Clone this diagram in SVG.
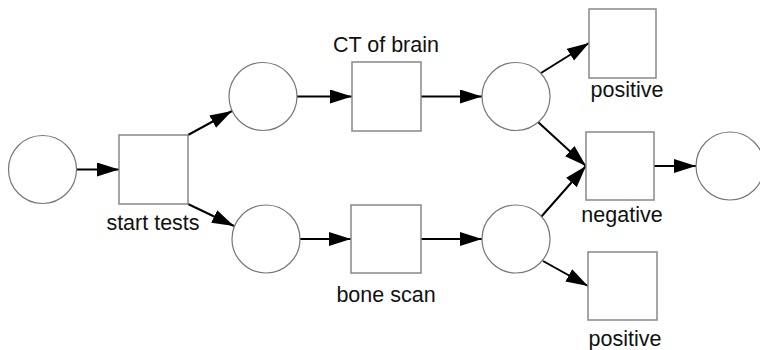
<svg xmlns="http://www.w3.org/2000/svg" width="760" height="350" viewBox="0 0 760 350">
<defs>
<marker id="arr" markerUnits="userSpaceOnUse" markerWidth="24" markerHeight="16" refX="22" refY="7" orient="auto">
<path d="M0,0 L22,7 L0,14 z" fill="#000"/>
</marker>
<style>
.place{fill:#fff;stroke:#777;stroke-width:1.2}
.trans{fill:#fff;stroke:#888;stroke-width:1.5}
.edge{stroke:#000;stroke-width:2;fill:none;marker-end:url(#arr)}
.lbl{font-family:"Liberation Sans",Arial,sans-serif;font-size:21.5px;fill:#111}
</style>
</defs>
<rect width="760" height="350" fill="#fff"/>
<g id="connectors">
<line class="edge" x1="76" y1="169.5" x2="119" y2="169.5"/>
<line class="edge" x1="188" y1="135" x2="232" y2="111"/>
<line class="edge" x1="188" y1="204" x2="234" y2="226"/>
<line class="edge" x1="297" y1="96.5" x2="352" y2="96.5"/>
<line class="edge" x1="300" y1="239" x2="351" y2="239"/>
<line class="edge" x1="421" y1="96.5" x2="482" y2="96.5"/>
<line class="edge" x1="421" y1="239" x2="482" y2="239"/>
<line class="edge" x1="541" y1="73" x2="589" y2="43"/>
<line class="edge" x1="538" y1="122" x2="586" y2="166"/>
<line class="edge" x1="541" y1="217" x2="586" y2="166"/>
<line class="edge" x1="543" y1="261" x2="588" y2="286"/>
<line class="edge" x1="654" y1="166" x2="696" y2="166"/>
</g>
<g id="p_start"><circle class="place" cx="42.5" cy="169.5" r="34"/></g>
<g id="t_start"><rect class="trans" x="119" y="135" width="69" height="69"/><text class="lbl" x="153" y="230" text-anchor="middle">start tests</text></g>
<g id="p_top"><circle class="place" cx="263" cy="96.5" r="34"/></g>
<g id="p_bottom"><circle class="place" cx="266" cy="239" r="34"/></g>
<g id="t_ct"><rect class="trans" x="352" y="62" width="69" height="69"/><text class="lbl" x="386" y="52" text-anchor="middle">CT of brain</text></g>
<g id="t_bone"><rect class="trans" x="351" y="205" width="70" height="68"/><text class="lbl" x="386" y="302" text-anchor="middle">bone scan</text></g>
<g id="p_rtop"><circle class="place" cx="516" cy="96.5" r="34"/></g>
<g id="p_rbottom"><circle class="place" cx="516" cy="239" r="34"/></g>
<g id="t_pos1"><rect class="trans" x="589" y="9" width="67" height="69"/><text class="lbl" x="627" y="97" text-anchor="middle">positive</text></g>
<g id="t_neg"><rect class="trans" x="586" y="132" width="68" height="68"/><text class="lbl" x="622" y="222" text-anchor="middle">negative</text></g>
<g id="t_pos2"><rect class="trans" x="588" y="252" width="69" height="68"/><text class="lbl" x="625" y="346" text-anchor="middle">positive</text></g>
<g id="p_end"><circle class="place" cx="730" cy="166" r="34"/></g>
</svg>
